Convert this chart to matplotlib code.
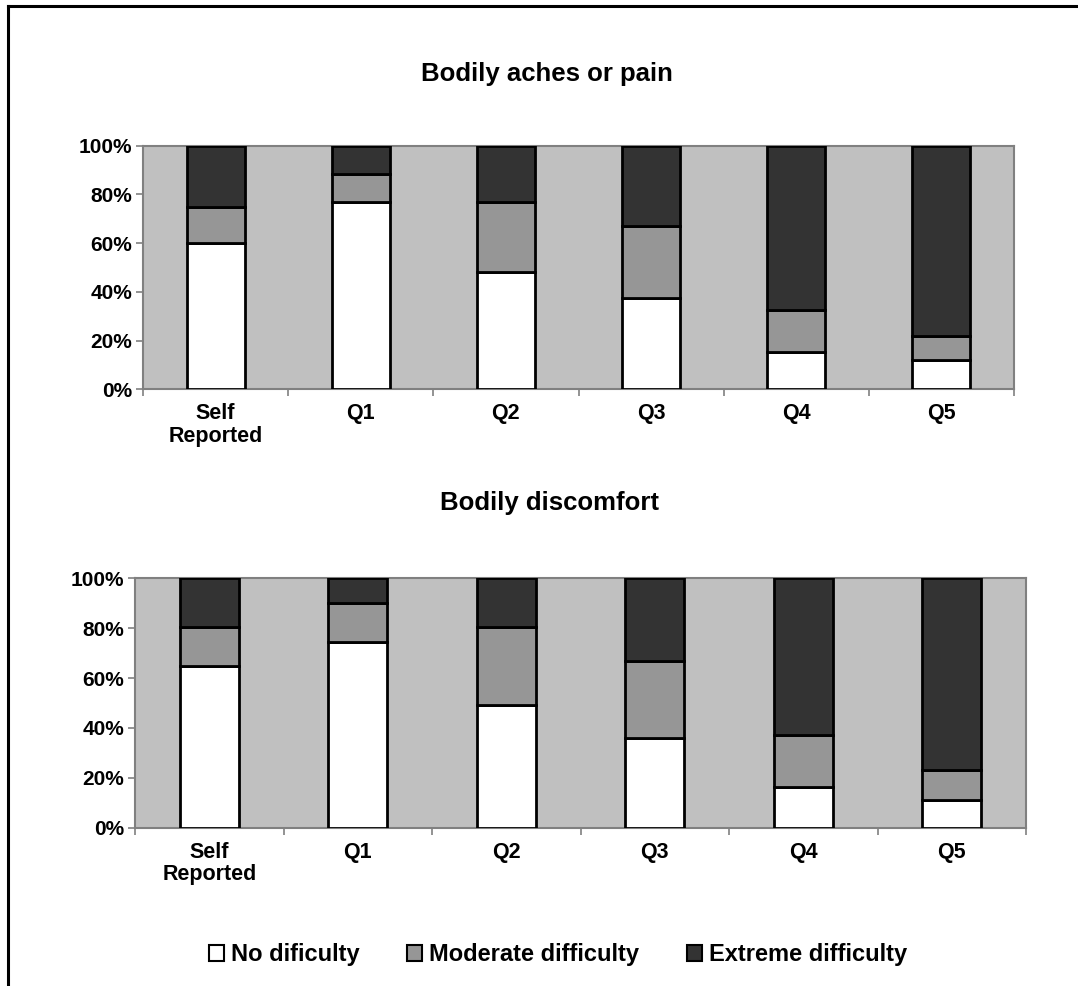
import matplotlib
matplotlib.use("Agg")
import matplotlib.pyplot as plt
from matplotlib.patches import Patch
from matplotlib.lines import Line2D
import numpy as np

plt.rcParams['font.family'] = ['Liberation Sans', 'DejaVu Sans']
plt.rcParams['font.weight'] = 'bold'

categories = ["Self\nReported", "Q1", "Q2", "Q3", "Q4", "Q5"]
series_names = ["No dificulty", "Moderate difficulty", "Extreme difficulty"]
series_colors = ["#FFFFFF", "#969696", "#333333"]

# Bodily aches or pain (percent of respondents)
aches_none = [60, 77, 48, 37.5, 15.5, 12]
aches_moderate = [15, 11.5, 29, 29.5, 17, 10]
aches_extreme = [25, 11.5, 23, 33, 67.5, 78]

# Bodily discomfort (percent of respondents)
discomfort_none = [65, 74.5, 49, 36, 16.5, 11]
discomfort_moderate = [15.5, 15.5, 31.5, 31, 20.5, 12]
discomfort_extreme = [19.5, 10, 19.5, 33, 63, 77]

W, H = 1078, 986
fig = plt.figure(figsize=(W / 100, H / 100), dpi=100)
fig.patch.set_facecolor("white")

# outer frame (left and top edges)
fig.add_artist(Line2D([7.5 / W, 7.5 / W], [0, 1 - 5.5 / H], color="black", lw=2.2,
                      transform=fig.transFigure))
fig.add_artist(Line2D([7.5 / W, 1.0], [1 - 5.5 / H, 1 - 5.5 / H], color="black", lw=2.2,
                      transform=fig.transFigure))


def px_rect(left, top, right, bottom):
    return [left / W, 1 - bottom / H, (right - left) / W, (bottom - top) / H]


def draw_panel(rect, series):
    ax = fig.add_axes(rect)
    ax.set_facecolor("#C0C0C0")
    x = np.arange(len(categories))
    bottom = np.zeros(len(categories))
    for vals, color in zip(series, series_colors):
        v = np.array(vals) / 100.0
        ax.bar(x, v, width=0.4, bottom=bottom, color=color, edgecolor="black",
               linewidth=2, zorder=3)
        bottom += v
    ax.set_xlim(-0.5, len(categories) - 0.5)
    ax.set_ylim(0, 1)
    for s in ax.spines.values():
        s.set_color("#808080")
        s.set_linewidth(1.5)
    ticks = np.linspace(0, 1, 6)
    ax.set_yticks(ticks)
    ax.set_yticklabels([f"{int(round(t * 100))}%" for t in ticks],
                       fontsize=15, fontweight="bold")
    ax.tick_params(axis="y", direction="out", length=5, width=1.2, color="#808080", pad=3)
    ax.set_xticks(x)
    ax.set_xticklabels(categories, fontsize=15.5, fontweight="bold", linespacing=1.1)
    ax.set_xticks(np.arange(-0.5, len(categories)), minor=True)
    ax.tick_params(axis="x", which="major", length=0, pad=10)
    ax.tick_params(axis="x", which="minor", direction="out", length=5, width=1.2,
                   color="#808080")
    return ax


draw_panel(px_rect(143, 145.7, 1014, 389.3), [aches_none, aches_moderate, aches_extreme])
draw_panel(px_rect(135, 578.3, 1026, 827.7),
           [discomfort_none, discomfort_moderate, discomfort_extreme])

fig.text(547 / W, 1 - 74 / H, "Bodily aches or pain", ha="center", va="center",
         fontsize=18.5, fontweight="bold")
fig.text(549 / W, 1 - 503 / H, "Bodily discomfort", ha="center", va="center",
         fontsize=18.5, fontweight="bold")

handles = [Patch(facecolor=c, edgecolor="black", linewidth=1.5) for c in series_colors]
fig.legend(handles, series_names, loc="center", bbox_to_anchor=(558 / W, 1 - 955 / H),
           ncol=3, frameon=False, handlelength=0.65, handleheight=0.65,
           handletextpad=0.3, columnspacing=2.0, borderpad=0,
           prop={"weight": "bold", "size": 17})

fig.savefig("out.png", dpi=100, facecolor="white")
